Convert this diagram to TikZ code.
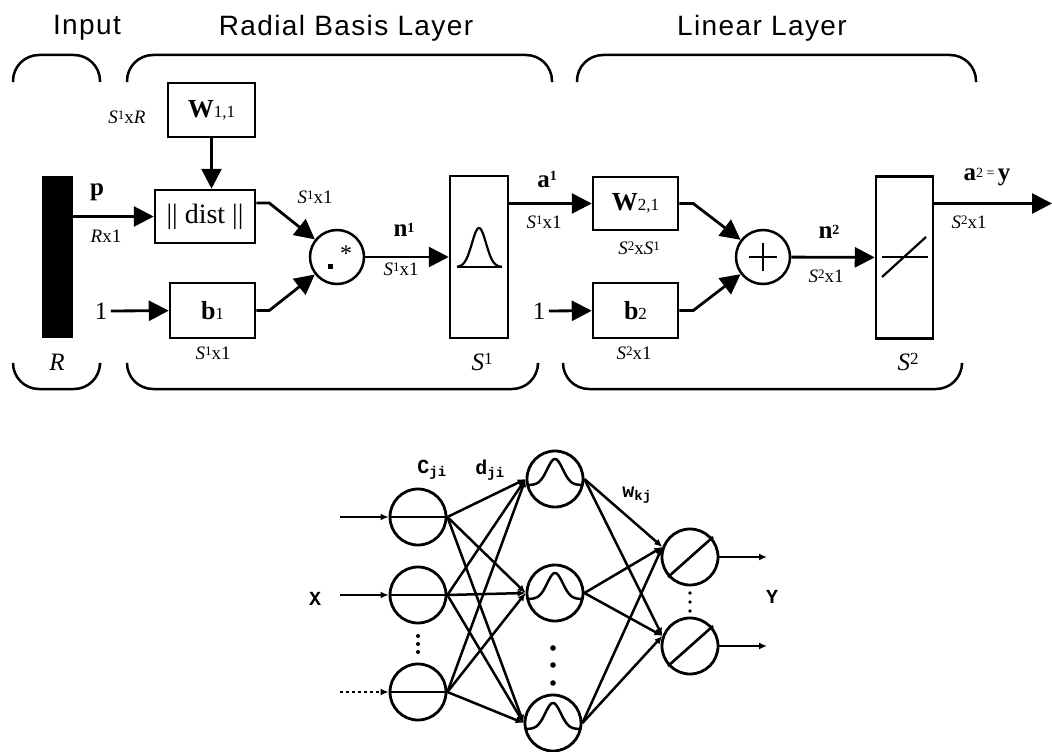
\documentclass[tikz,border=0pt]{standalone}
\usepackage{fontspec}
\setmainfont{Liberation Serif}
\setsansfont{Liberation Sans}
\setmonofont{Liberation Mono}
\newfontfamily\titlefont[LetterSpace=5]{Liberation Sans}
\usetikzlibrary{arrows.meta, positioning, calc}

\newcommand{\fs}[1]{\fontsize{#1}{#1}\selectfont}
\newcommand{\supnum}[2][5pt]{\raisebox{#1}{\fs{14}#2}}
\newcommand{\dimsup}[1]{\raisebox{3.5pt}{\fs{13}#1}}

\begin{document}
\begin{tikzpicture}[x=1pt, y=-1pt,
    box/.style={draw, line width=2.5pt, minimum width=86pt, minimum height=54pt, inner sep=0pt, font=\fs{26}},
    tallbox/.style={draw, line width=2.5pt, minimum width=58pt, minimum height=162pt, inner sep=0pt},
    sumnode/.style={draw, circle, line width=2.5pt, minimum size=54pt, inner sep=0pt},
    arrow/.style={-{Triangle[length=20pt,width=20pt]}, line width=2.8pt},
    brace/.style={line width=2.5pt, rounded corners=26pt},
    title/.style={font=\titlefont\fs{28}},
    dimlab/.style={font=\fs{19}},
    siglab/.style={font=\bfseries\fs{25}},
    biglab/.style={font=\fs{25}},
    neuron/.style={draw, circle, line width=2.8pt, minimum size=56pt, inner sep=0pt},
    nnarrow/.style={-{Latex[length=8pt,width=7pt]}, line width=2.5pt},
    nnlab/.style={font=\ttfamily\bfseries\fs{20}}
]
\useasboundingbox (0,0) rectangle (1052,752);

% layer titles and braces
\node[title] (tin) at (87,28) {Input};
\node[title] (trb) at (346,28) {Radial Basis Layer};
\node[title] (tlin) at (762,28) {Linear Layer};
\draw[brace] (13,82) -- (13,55) -- (100,55) -- (100,82);
\draw[brace] (127,82) -- (127,55) -- (552,55) -- (552,82);
\draw[brace] (577,82) -- (577,55) -- (976,55) -- (976,82);
\draw[brace] (13,365) -- (13,389) -- (100,389) -- (100,365);
\draw[brace] (127,365) -- (127,389) -- (538,389) -- (538,365);
\draw[brace] (563,365) -- (563,389) -- (962,389) -- (962,365);

% input
\node[fill=black, minimum width=31pt, minimum height=162pt, inner sep=0pt] (bar) at (57.5,257) {};
\node[biglab, font=\itshape\fs{25}] (rlab) at (57,362) {R};
\node[siglab] (plab) at (97,192) {p};
\node[dimlab] (pdim) at (106,236) {\textit{R}x1};

% radial basis layer
\node[box, minimum width=87pt] (W11) at (211.5,110) {\textbf{W}{\fs{17}1,1}};
\node[dimlab] (wdim) at (127,117) {\textit{S}\dimsup{1}x\textit{R}};
\node[box, minimum width=100pt, minimum height=53pt, font=\fs{28}] (dist) at (205,216.5) {|| dist ||};
\node[box, minimum width=85pt, minimum height=55pt] (b1) at (212.5,310.5) {\textbf{b}{\fs{17}1}};
\node[biglab] (one1) at (101,311) {1};
\node[dimlab] (b1dim) at (213,353) {\textit{S}\dimsup{1}x1};
\node[sumnode] (mult) at (337,257) {};
\fill ($(mult.center)+(-9,12)$) rectangle +(5,-5);
\node[font=\fs{24}] (star) at (346,254) {*};
\node[dimlab] (ddim) at (315,197) {\textit{S}\dimsup{1}x1};
\node[siglab] (n1lab) at (404,230) {n\supnum[4pt]{1}};
\node[dimlab] (n1dim) at (401,269) {\textit{S}\dimsup{1}x1};
\node[tallbox] (S1) at (479,257) {};
\draw[line width=2.2pt] (457,267) -- (502,267);
\draw[line width=2.2pt] plot[domain=-22:23, samples=50, smooth] ({479+\x},{267-39*exp(-(\x/10)^2)});
\node[biglab] (s1lab) at (482,362) {\textit{S}\raisebox{6pt}{\fs{17}1}};

\draw[arrow] (bar.east |- dist.west) -- (dist.west);
\draw[arrow] (W11.south) -- (W11.south |- dist.north);
\draw[arrow] (one1) -- (b1);
\draw[arrow] ([yshift=13.5pt]dist.east) -- ++(13,0) -- (mult);
\draw[arrow] (b1.east) -- ++(13,0) -- (mult);
\draw[arrow] (mult) -- (S1);

% linear layer
\node[siglab] (a1lab) at (547,179) {a\supnum[7pt]{1}};
\node[dimlab] (a1dim) at (544,222) {\textit{S}\dimsup{1}x1};
\node[box, minimum width=85pt, minimum height=53pt] (W21) at (635.5,203.5) {\textbf{W}{\fs{17}2,1}};
\node[dimlab] (w2dim) at (639,248) {\textit{S}\dimsup{2}x\textit{S}\dimsup{1}};
\node[box, minimum width=85pt, minimum height=55pt] (b2) at (635.5,310.5) {\textbf{b}{\fs{17}2}};
\node[biglab] (one2) at (539,311) {1};
\node[dimlab] (b2dim) at (634,353) {\textit{S}\dimsup{2}x1};
\node[sumnode] (plus) at (763,257) {};
\draw[line width=2.8pt] ($(plus.center)+(-14,0)$) -- ($(plus.center)+(14,0)$);
\draw[line width=2.8pt] ($(plus.center)+(0,-14)$) -- ($(plus.center)+(0,14)$);
\node[siglab] (n2lab) at (829,232) {n\supnum[4pt]{2}};
\node[dimlab] (n2dim) at (826,276) {\textit{S}\dimsup{2}x1};
\node[tallbox, minimum width=57pt] (S2) at (904.5,257.5) {};
\draw[line width=2.2pt] (882,257) -- (928,257);
\draw[line width=2.2pt] (882,277) -- (926,237);
\node[biglab] (s2lab) at (908,362) {\textit{S}\raisebox{6pt}{\fs{17}2}};
\node[siglab] (a2lab) at (987,177) {a\raisebox{3pt}{\fs{14}\mdseries 2 = }y};
\node[dimlab] (a2dim) at (969,222) {\textit{S}\dimsup{2}x1};
\coordinate (yout) at (1052,203.5);

\draw[arrow] (S1.east |- W21.west) -- (W21.west);
\draw[arrow] (one2) -- (b2);
\draw[arrow] (W21.east) -- ++(14,0) -- (plus);
\draw[arrow] (b2.east) -- ++(14,0) -- (plus);
\draw[arrow] (plus) -- (S2);
\draw[arrow] (S2.east |- W21.west) -- (yout);

% RBF network sketch
\node[neuron] (in1) at (418,517) {};
\node[neuron] (in2) at (418,595) {};
\node[neuron] (in3) at (418,692) {};
\node[neuron] (hid1) at (555,479) {};
\node[neuron] (hid2) at (555,593) {};
\node[neuron] (hid3) at (553,723) {};
\node[neuron] (out1) at (690,557) {};
\node[neuron] (out2) at (690,646) {};

\foreach \h in {hid1,hid2,hid3}
  \draw[line width=2.5pt, shift={(\h.center)}] plot[domain=-26:26, samples=50, smooth] ({\x},{6-26*exp(-(\x/11)^2)});
\foreach \o in {out1,out2}
  \draw[line width=2.6pt] ($(\o.center)+(-22,20)$) -- ($(\o.center)+(23,-20)$);

\coordinate (x1) at (340,517);
\coordinate (x2) at (340,595);
\coordinate (x3) at (340,692);
\draw[nnarrow, line width=1.8pt] (x1) -- (in1.west);
\draw[nnarrow] (x2) -- (in2.west);
\draw[nnarrow, line width=1.8pt, dashed] (x3) -- (in3.west);
\foreach \i in {1,2,3}
  \draw[line width=2.5pt] (in\i.west) -- (in\i.east);
\foreach \i in {1,2,3}
  \foreach \j in {1,2,3}
    \draw[nnarrow] (in\i.east) -- (hid\j.west);
\foreach \j in {1,2,3}
  \foreach \k in {1,2}
    \draw[nnarrow] (hid\j.east) -- (out\k.160);
\coordinate (y1) at (767,557);
\coordinate (y2) at (767,646);
\draw[nnarrow, line width=1.8pt] (out1.east) -- (y1);
\draw[nnarrow, line width=1.8pt] (out2.east) -- (y2);

\foreach \y in {636,644,652}
  \fill (418,\y) circle (2pt);
\foreach \y in {648,665,683}
  \fill (553,\y) circle (2.8pt);
\foreach \y in {593,602,611}
  \fill (690,\y) circle (1.8pt);

\node[nnlab] (xlab) at (315,599) {X};
\node[nnlab] (ylab) at (772,597) {Y};
\node[nnlab] (clab) at (432,470) {C\textsubscript{ji}};
\node[nnlab] (dlab) at (490,470) {d\textsubscript{ji}};
\node[nnlab] (wlab) at (637,495) {w\textsubscript{kj}};
\end{tikzpicture}
\end{document}
